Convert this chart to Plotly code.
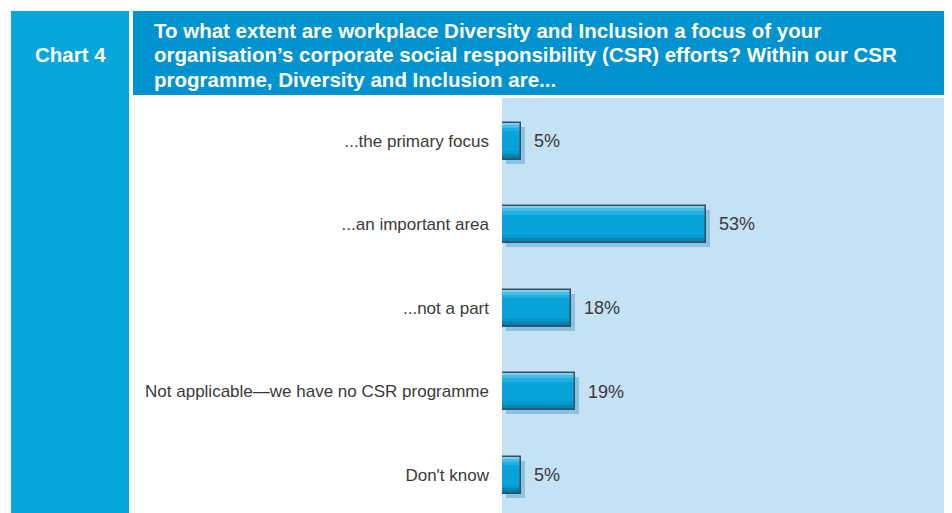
import plotly.graph_objects as go

categories = ["...the primary focus", "...an important area", "...not a part",
              "Not applicable\u2014we have no CSR programme", "Don't know"]
values = [5, 53, 18, 19, 5]
value_labels = ["5%", "53%", "18%", "19%", "5%"]
title_lines = ["To what extent are workplace Diversity and Inclusion a focus of your",
               "organisation\u2019s corporate social responsibility (CSR) efforts? Within our CSR",
               "programme, Diversity and Inclusion are..."]
chart_label = "Chart 4"

OFF = 8  # page body margin
W, H = 952 - OFF, 513 - OFF
def X(p): return (p - OFF) / W
def Y(p): return 1 - (p - OFF) / H

px_x0, px_x1 = 503, 948
px_y0, px_y1 = 98, 513
unit_px = (707 - 503) / 53.0
cat_px = 83.5
first_center = 141

xr = [0, (px_x1 - px_x0) / unit_px]
yr = [(px_y1 - first_center) / cat_px, -(first_center - px_y0) / cat_px]

bw = 37 / cat_px
sx = 4 / unit_px
sy = 4 / cat_px

FONT = "Liberation Sans, Arial, sans-serif"
fig = go.Figure()

# shadow
fig.add_bar(y=categories, x=values, base=[sx]*len(values), orientation="h",
            width=bw, offset=-bw/2 + sy,
            marker=dict(color="rgba(70,155,205,0.45)", line=dict(width=0)),
            hoverinfo="skip", showlegend=False)
# main fill
fig.add_bar(y=categories, x=values, orientation="h", width=bw, offset=-bw/2,
            marker=dict(color="#08a3d9", line=dict(width=0)), hoverinfo="skip", showlegend=False)
# gradient strips
strips = [(0.00, 0.06, "#7fd0ef"), (0.06, 0.14, "#45bde8"), (0.14, 0.24, "#1eb0e0"),
          (0.76, 0.86, "#0798cc"), (0.86, 0.94, "#0686b8"), (0.94, 1.0, "#0575a3")]
for a, b, c in strips:
    fig.add_bar(y=categories, x=values, orientation="h", width=bw*(b-a), offset=-bw/2 + bw*a,
                marker=dict(color=c, line=dict(width=0)), hoverinfo="skip", showlegend=False)
# border
fig.add_bar(y=categories, x=values, orientation="h", width=bw, offset=-bw/2,
            marker=dict(color="rgba(0,0,0,0)", line=dict(color="#3b4e5e", width=1.5)),
            hoverinfo="skip", showlegend=False)

for cat, v, lab in zip(categories, values, value_labels):
    fig.add_annotation(x=v, y=cat, text=lab, xanchor="left", yanchor="middle", xshift=11,
                       showarrow=False, font=dict(family=FONT, size=18, color="#3a3a3a"))

shapes = [
    dict(type="rect", xref="paper", yref="paper", x0=X(11), x1=X(129), y0=0, y1=Y(11),
         fillcolor="#05a6da", line=dict(width=0), layer="below"),
    dict(type="rect", xref="paper", yref="paper", x0=X(133), x1=X(948), y0=Y(95), y1=Y(11),
         fillcolor="#0193cf", line=dict(width=0), layer="below"),
]
fig.update_layout(shapes=shapes)

fig.add_annotation(xref="paper", yref="paper", x=X(70), y=Y(55), text="<b>%s</b>" % chart_label,
                   showarrow=False, xanchor="center", yanchor="middle",
                   font=dict(family=FONT, size=20.5, color="white"))
for i, line in enumerate(title_lines):
    fig.add_annotation(xref="paper", yref="paper", x=X(152), y=Y(30.5 + 24.5*i),
                       text="<b>%s</b>" % line, showarrow=False, xanchor="left", yanchor="middle",
                       font=dict(family=FONT, size=20.5, color="white"))

fig.update_layout(
    width=W, height=H, margin=dict(l=0, r=0, t=0, b=0),
    paper_bgcolor="white", plot_bgcolor="#c4e2f3",
    barmode="overlay", bargap=0,
    xaxis=dict(domain=[X(px_x0 - 1), X(px_x1)], range=xr, visible=False, fixedrange=True),
    yaxis=dict(domain=[0, Y(px_y0)], range=yr, showgrid=False, zeroline=False,
               showline=False, ticks="", ticklabelstandoff=12,
               tickfont=dict(family=FONT, size=17, color="#3a3a3a")),
)
fig.write_html("out.html")
